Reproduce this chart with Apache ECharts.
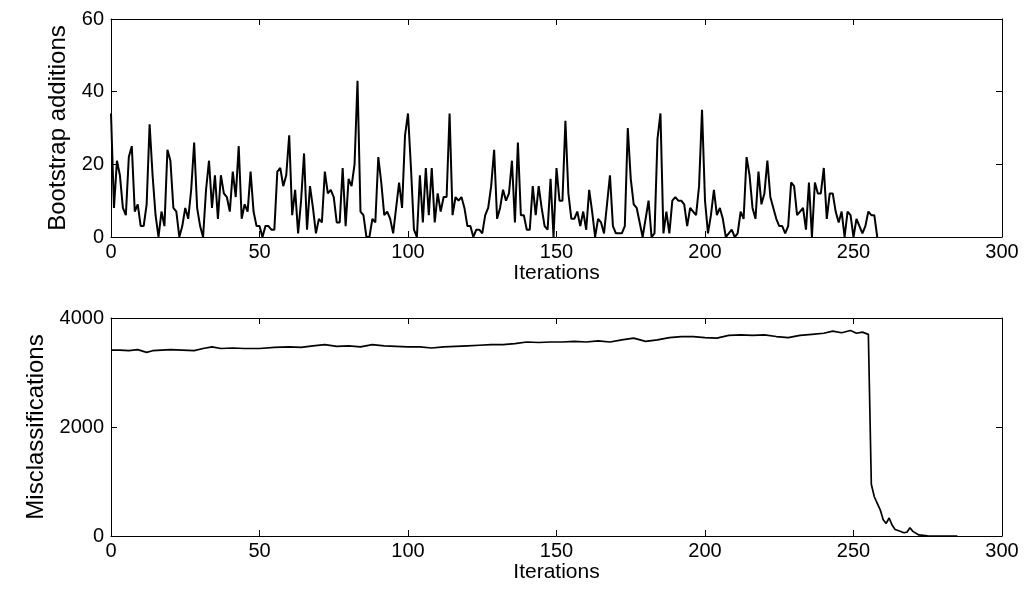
<!DOCTYPE html>
<html lang="en">
<head>
<meta charset="UTF-8">
<title>Bootstrap additions / Misclassifications</title>
<script src="https://cdn.jsdelivr.net/npm/echarts@6/dist/echarts.min.js"></script>
<style>
    *{margin:0;padding:0;box-sizing:border-box;}
    html,body{width:100vw;height:100vh;background:#fff;}
    #main{width:1028px;height:609px;}
</style>
</head>
<body>
<div id="main"></div>
<script>
// bootstrap additions, one value per iteration (index = iteration)
var bootValues = [
    34,8,21,17,8,6,22,25,7,9,
    3,3,9,31,17,6,0,7,3,24,
    21,8,7,0,3,8,5,13,26,8,
    3,0,13,21,8,17,5,17,12,11,
    7,18,11,25,5,9,7,18,7,3,
    3,0,3,3,2,2,18,19,14,17,
    28,6,13,1,10,23,2,14,8,1,
    5,4,18,12,13,11,4,4,19,3,
    16,14,20,43,7,6,0,0,5,4,
    22,15,6,7,5,1,8,15,8,28,
    34,19,2,0,17,4,19,6,19,4,
    12,7,11,11,34,6,11,10,11,8,
    3,3,0,2,2,1,6,8,14,24,
    5,8,13,10,12,21,4,26,6,6,
    2,2,14,6,14,8,3,2,16,0,
    19,10,10,32,12,5,5,7,3,7,
    2,13,7,0,5,4,1,9,17,3,
    1,1,1,3,30,16,9,8,4,0,
    5,10,0,1,27,34,1,7,1,10,
    11,10,10,9,3,8,7,6,14,35,
    10,1,6,13,6,8,5,0,1,2,
    0,1,7,5,22,17,8,5,18,9,
    12,21,11,8,5,3,3,1,3,15,
    14,6,7,8,2,15,0,15,12,12,
    19,5,12,12,7,4,7,0,7,6,
    0,5,3,1,3,7,6,6,0
];

// misclassifications, read at these iterations
var misIters = [
    0,3,6,9,12,14,17,20,24,28,31,34,37,41,45,50,55,60,64,68,
    72,76,80,84,88,92,96,100,104,108,112,116,120,124,128,132,136,140,144,148,
    152,156,160,164,168,172,176,180,184,188,192,196,200,204,208,212,216,220,224,228,
    232,236,240,243,246,249,251,253,255,256,257,258,259,260,261,262,263,264,265,267,
    268,269,270,272,275,280,285
];
var misValues = [
    3410,3410,3400,3420,3370,3400,3410,3420,3410,3400,3440,3470,3440,3450,3440,3440,3460,3470,3460,3490,
    3510,3480,3490,3470,3510,3490,3480,3470,3470,3450,3470,3480,3490,3500,3510,3510,3530,3560,3550,3560,
    3560,3570,3560,3580,3560,3600,3630,3570,3600,3640,3660,3660,3640,3630,3680,3690,3680,3690,3660,3640,
    3680,3700,3720,3760,3730,3770,3720,3740,3700,950,720,600,480,300,230,330,200,120,100,60,
    70,150,85,20,5,0,0
];

var xMin = 0, xMax = 300, xStep = 50;
var bootMax = 60, bootStep = 20;
var misMax = 4000, misStep = 2000;

var bootData = bootValues.map(function(v,i){return [i,v]});
var misData = misIters.map(function(x,i){return [x,misValues[i]]});

var font = "'Liberation Sans', Arial, Helvetica, sans-serif";
var black = '#000';

function xAx(g, pos, withLabels){
    var a = {
        gridIndex:g, type:'value', position:pos, min:xMin, max:xMax, interval:xStep,
        axisLine:{show:true, onZero:false, lineStyle:{color:black, width:1}},
        axisTick:{show:true, inside:true, length:6, lineStyle:{color:black, width:1}},
        axisLabel:{show:withLabels, color:black, fontSize:20, fontFamily:font, margin:5},
        splitLine:{show:false}
    };
    if(withLabels){
        a.name = 'Iterations';
        a.nameLocation = 'middle';
        a.nameGap = 25;
        a.nameTextStyle = {color:black, fontSize:21, fontFamily:font};
    }
    return a;
}
function yAx(g, pos, max, step, name, gap){
    var a = {
        gridIndex:g, type:'value', position:pos, min:0, max:max, interval:step,
        axisLine:{show:true, onZero:false, lineStyle:{color:black, width:1}},
        axisTick:{show:true, inside:true, length:6, lineStyle:{color:black, width:1}},
        axisLabel:{show:!!name, color:black, fontSize:20, fontFamily:font, margin:7,
            formatter:function(v){return String(v)}},
        splitLine:{show:false}
    };
    if(name){
        a.name = name;
        a.nameLocation = 'middle';
        a.nameGap = gap;
        a.nameTextStyle = {color:black, fontSize:24, fontFamily:font};
    }
    return a;
}

var myChart = echarts.init(document.getElementById('main'));
var option = {
    animation:false,
    backgroundColor:'#fff',
    grid:[
        {left:111, top:19, width:891, height:218},
        {left:111, top:318, width:891, height:218}
    ],
    xAxis:[
        xAx(0,'bottom',true), xAx(0,'top',false),
        xAx(1,'bottom',true), xAx(1,'top',false)
    ],
    yAxis:[
        yAx(0,'left',bootMax,bootStep,'Bootstrap additions',36),
        yAx(0,'right',bootMax,bootStep,null),
        yAx(1,'left',misMax,misStep,'Misclassifications',60),
        yAx(1,'right',misMax,misStep,null)
    ],
    series:[
        {
            type:'line', xAxisIndex:0, yAxisIndex:0, data:bootData,
            showSymbol:false, lineStyle:{color:black, width:2}
        },
        {
            type:'line', xAxisIndex:2, yAxisIndex:2, data:misData,
            showSymbol:false, lineStyle:{color:black, width:1.7}
        }
    ]
};
myChart.setOption(option);
window.onresize = myChart.resize;
</script>
</body>
</html>
